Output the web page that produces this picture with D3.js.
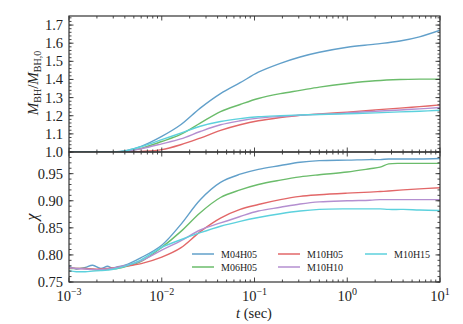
<!DOCTYPE html>
<html>
<head>
<meta charset="utf-8">
<script src="https://cdn.jsdelivr.net/npm/d3@7"></script>
<style>
body { margin: 0; background: #fff; }
svg text { font-family: "Liberation Serif", "Times New Roman", serif; fill: #222; }
</style>
</head>
<body>
<div id="chart"></div>
<script>
// series names + colours (tab10 at 0.7 alpha on white)
const names = ["M04H05", "M06H05", "M10H05", "M10H10", "M10H15"];
const colors = ["#62a0ca", "#6bbc6b", "#e26768", "#b48fd0", "#5cd1dd"];

// top panel: M_BH / M_BH,0
const tMass = [0.001, 0.002, 0.003, 0.004, 0.006, 0.01, 0.016, 0.026, 0.043, 0.07, 0.11, 0.19, 0.31, 0.5, 1, 2, 3.7, 6, 10];
const massM04H05 = [1.0, 1.0, 1.0, 1.006, 1.031, 1.086, 1.15, 1.242, 1.322, 1.382, 1.440, 1.489, 1.524, 1.550, 1.578, 1.595, 1.612, 1.635, 1.672];
const massM06H05 = [1.0, 1.0, 1.0, 1.003, 1.02, 1.058, 1.097, 1.159, 1.223, 1.262, 1.295, 1.322, 1.340, 1.358, 1.378, 1.393, 1.400, 1.402, 1.402];
const massM10H05 = [1.0, 1.0, 1.0, 1.0, 1.003, 1.013, 1.04, 1.077, 1.119, 1.15, 1.172, 1.19, 1.203, 1.21, 1.22, 1.232, 1.242, 1.25, 1.26];
const massM10H10 = [1.0, 1.0, 1.0, 1.003, 1.018, 1.045, 1.072, 1.113, 1.15, 1.172, 1.187, 1.196, 1.203, 1.208, 1.215, 1.225, 1.232, 1.238, 1.245];
const massM10H15 = [1.0, 1.0, 1.0, 1.006, 1.03, 1.068, 1.104, 1.142, 1.168, 1.184, 1.194, 1.200, 1.204, 1.207, 1.211, 1.216, 1.221, 1.225, 1.23];

// bottom panel: spin chi
const tSpin = [0.001, 0.0012, 0.0015, 0.0018, 0.0022, 0.0026, 0.0029, 0.0033, 0.004, 0.006, 0.01, 0.016, 0.026, 0.043, 0.07, 0.11, 0.19, 0.31, 0.5, 1, 1.75, 2.26, 2.8, 4, 6, 10];
const chiM04H05 = [0.779, 0.774, 0.777, 0.781, 0.775, 0.779, 0.776, 0.778, 0.781, 0.795, 0.818, 0.856, 0.902, 0.934, 0.949, 0.958, 0.965, 0.971, 0.974, 0.975, 0.976, 0.976, 0.977, 0.977, 0.977, 0.978];
const chiM06H05 = [0.775, 0.775, 0.775, 0.773, 0.772, 0.773, 0.774, 0.775, 0.778, 0.788, 0.814, 0.843, 0.878, 0.906, 0.920, 0.930, 0.938, 0.944, 0.948, 0.953, 0.959, 0.962, 0.968, 0.969, 0.969, 0.969];
const chiM10H05 = [0.776, 0.775, 0.775, 0.774, 0.774, 0.775, 0.776, 0.777, 0.779, 0.784, 0.796, 0.813, 0.843, 0.868, 0.884, 0.893, 0.902, 0.908, 0.911, 0.914, 0.916, 0.917, 0.918, 0.920, 0.922, 0.924];
const chiM10H10 = [0.776, 0.775, 0.774, 0.773, 0.773, 0.774, 0.775, 0.777, 0.780, 0.789, 0.809, 0.826, 0.846, 0.859, 0.871, 0.881, 0.888, 0.894, 0.898, 0.900, 0.901, 0.902, 0.902, 0.902, 0.902, 0.902];
const chiM10H15 = [0.771, 0.769, 0.769, 0.770, 0.771, 0.772, 0.773, 0.775, 0.779, 0.791, 0.814, 0.828, 0.841, 0.853, 0.862, 0.869, 0.876, 0.881, 0.884, 0.885, 0.885, 0.885, 0.884, 0.884, 0.883, 0.882];

const xMajor = [1e-3, 1e-2, 1e-1, 1, 10];
const xExp = ["\u22123", "\u22122", "\u22121", "0", "1"];
const massTicks = [1.0, 1.1, 1.2, 1.3, 1.4, 1.5, 1.6, 1.7];
const chiTicks = [0.75, 0.80, 0.85, 0.90, 0.95];

const massSeries = [massM04H05, massM06H05, massM10H05, massM10H10, massM10H15];
const chiSeries = [chiM04H05, chiM06H05, chiM10H05, chiM10H10, chiM10H15];

const W = 463, H = 324;
const pL = 69, pR = 440, pT = 16, pM = 152, pB = 282;

const svg = d3.select("#chart").append("svg")
  .attr("width", W).attr("height", H);

const x = d3.scaleLog().domain([1e-3, 10]).range([pL, pR]);
const yMass = d3.scaleLinear().domain([1.0, 1.75]).range([pM, pT]);
const yChi = d3.scaleLinear().domain([0.75, 0.99]).range([pB, pM]);

const xMinor = x.ticks().filter(v => !xMajor.some(m => Math.abs(m - v) / m < 1e-6));

function panel(y, y0, y1, series, tt, yMaj, yMin, fmt, id) {
  svg.append("clipPath").attr("id", id)
    .append("rect").attr("x", pL).attr("y", y1).attr("width", pR - pL).attr("height", y0 - y1);

  const line = d3.line().x(d => x(d[0])).y(d => y(d[1])).curve(d3.curveCatmullRom.alpha(0.5));
  const g = svg.append("g").attr("clip-path", `url(#${id})`);
  series.forEach((s, i) => {
    g.append("path")
      .datum(tt.map((t, j) => [t, s[j]]))
      .attr("d", line)
      .attr("fill", "none")
      .attr("stroke", colors[i])
      .attr("stroke-width", 1.4);
  });

  const tk = svg.append("g").attr("stroke", "#333").attr("stroke-width", 0.9);
  // ticks on all four sides, pointing inward
  xMajor.forEach(v => {
    tk.append("line").attr("x1", x(v)).attr("x2", x(v)).attr("y1", y0).attr("y2", y0 - 4.5);
    tk.append("line").attr("x1", x(v)).attr("x2", x(v)).attr("y1", y1).attr("y2", y1 + 4.5);
  });
  xMinor.forEach(v => {
    tk.append("line").attr("x1", x(v)).attr("x2", x(v)).attr("y1", y0).attr("y2", y0 - 2.5);
    tk.append("line").attr("x1", x(v)).attr("x2", x(v)).attr("y1", y1).attr("y2", y1 + 2.5);
  });
  yMaj.forEach(v => {
    tk.append("line").attr("x1", pL).attr("x2", pL + 4.5).attr("y1", y(v)).attr("y2", y(v));
    tk.append("line").attr("x1", pR).attr("x2", pR - 4.5).attr("y1", y(v)).attr("y2", y(v));
  });
  yMin.forEach(v => {
    tk.append("line").attr("x1", pL).attr("x2", pL + 2.5).attr("y1", y(v)).attr("y2", y(v));
    tk.append("line").attr("x1", pR).attr("x2", pR - 2.5).attr("y1", y(v)).attr("y2", y(v));
  });

  svg.append("rect").attr("x", pL).attr("y", y1).attr("width", pR - pL).attr("height", y0 - y1)
    .attr("fill", "none").attr("stroke", "#333").attr("stroke-width", 1.2);

  svg.append("g").selectAll("text").data(yMaj).join("text")
    .attr("x", pL - 6).attr("y", d => y(d) + 5)
    .attr("text-anchor", "end").attr("font-size", 14.5)
    .text(fmt);
}

const massMinor = d3.range(50).map(i => 1.0 + i * 0.02).filter(v => v < 1.751);
const chiMinor = d3.range(30).map(i => 0.75 + i * 0.01).filter(v => v < 0.991);

panel(yMass, pM, pT, massSeries, tMass, massTicks, massMinor, d => d.toFixed(1), "clipTop");
panel(yChi, pB, pM, chiSeries, tSpin, chiTicks, chiMinor, d => d.toFixed(2), "clipBot");

// x tick labels 10^n
xMajor.forEach((v, i) => {
  const t = svg.append("text").attr("x", x(v)).attr("y", 301)
    .attr("text-anchor", "middle").attr("font-size", 14.5);
  t.append("tspan").text("10");
  t.append("tspan").attr("dy", -6).attr("font-size", 10).text(xExp[i]);
});

// axis labels
const xl = svg.append("text").attr("x", 254).attr("y", 318)
  .attr("text-anchor", "middle").attr("font-size", 14.5);
xl.append("tspan").attr("font-style", "italic").text("t");
xl.append("tspan").text(" (sec)");

const yl = svg.append("text").attr("transform", "translate(38,83) rotate(-90)")
  .attr("text-anchor", "middle").attr("font-size", 15);
yl.append("tspan").attr("font-style", "italic").text("M");
yl.append("tspan").attr("font-size", 10).attr("dy", 3).text("BH");
yl.append("tspan").attr("dy", -3).text("/");
yl.append("tspan").attr("font-style", "italic").text("M");
yl.append("tspan").attr("font-size", 10).attr("dy", 3).text("BH,0");

svg.append("text").attr("transform", "translate(37,217) rotate(-90)")
  .attr("text-anchor", "middle").attr("font-size", 16).attr("font-style", "italic")
  .text("\u03c7");

// legend: 3 columns, column-major order
const legCols = [192, 278, 365];
const legRows = [254, 267];
const leg = svg.append("g");
names.forEach((n, i) => {
  const cx = legCols[Math.floor(i / 2)], cy = legRows[i % 2];
  leg.append("line").attr("x1", cx).attr("x2", cx + 22).attr("y1", cy).attr("y2", cy)
    .attr("stroke", colors[i]).attr("stroke-width", 1.5);
  leg.append("text").attr("x", cx + 29).attr("y", cy + 3.5).attr("font-size", 10).text(n);
});
</script>
</body>
</html>
